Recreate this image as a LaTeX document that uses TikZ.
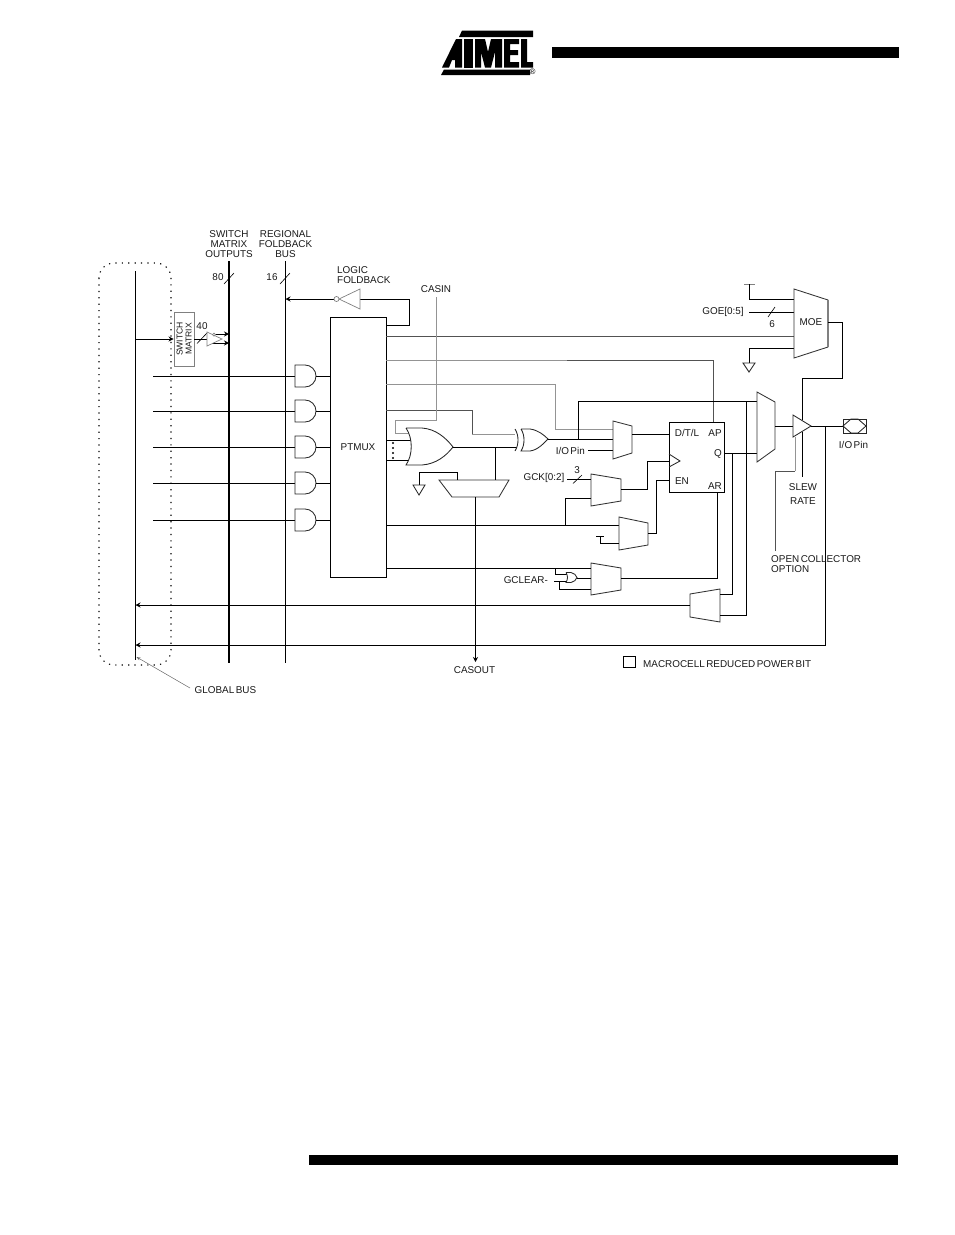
\documentclass[tikz,border=0pt]{standalone}
\usepackage{fontspec}
\setmainfont[WordSpace=0.55]{Liberation Sans}
\usetikzlibrary{arrows.meta}
\tikzset{
  wire/.style={line width=0.85pt,black},
  graywire/.style={line width=0.85pt,black!42},
  dimwire/.style={line width=0.85pt,black!68},
  gate/.style={line width=0.85pt,black!85,fill=white},
  lightgate/.style={line width=0.7pt,black!50,fill=white},
  mux/.style={line width=0.85pt,black!80,fill=white},
  lbl/.style={font=\fontsize{9.9}{10}\selectfont,inner sep=0pt,align=center,text=black!90},
  tip/.style={-{Stealth[length=5pt,width=5pt]}},
  busline/.style={line width=0.9pt,black},
  thickbus/.style={line width=2pt,black},
  box/.style={draw,line width=0.9pt,black,fill=white,inner sep=0pt},
}
\begin{document}
\begin{tikzpicture}[x=1pt,y=-1pt]
\useasboundingbox (0,0) rectangle (954,1235);
% header and footer bars
\fill[black] (552,47) rectangle (899,58);
\fill[black] (309,1155) rectangle (898,1165);
% logo
\fill[black] (462,30.5) -- (533,30.5) -- (533,37) -- (459,37) -- cycle;
\fill[black] (441,75) -- (530,75) -- (530,69.5) -- (444,69.5) -- cycle;
\fill[black] (442,67.5) -- (456,39) -- (462,39) -- (462,67.5) -- (455,67.5) -- (455,60) -- (452,60) -- (449,67.5) -- cycle;
\fill[black] (463.5,39) -- (473,39) -- (473,67.5) -- (463.5,67.5) -- cycle;
\fill[black] (475,39) -- (485,39) -- (488,52) -- (491,39) -- (502,39) -- (502,67.5) -- (495,67.5) -- (495,52) -- (491,67.5) -- (485,67.5) -- (481,52) -- (481,67.5) -- (475,67.5) -- cycle;
\fill[black] (504,39) -- (519,39) -- (519,44) -- (510,44) -- (510,50) -- (518,50) -- (518,55) -- (510,55) -- (510,62) -- (519,62) -- (519,67.5) -- (504,67.5) -- cycle;
\fill[black] (521,39) -- (527,39) -- (527,62) -- (533,62) -- (533,67.5) -- (521,67.5) -- cycle;
\node[font=\fontsize{8}{8}\selectfont,inner sep=0pt] (reg) at (532.5,72) {®};
% dotted global bus outline
\draw[black,line width=1.1pt,dash pattern=on 1.2pt off 5.2pt,rounded corners=15pt] (99,263) rectangle (171,665);
% buses
\coordinate (gbT) at (135.5,271); \coordinate (gbB) at (135.5,660);
\coordinate (smT) at (229,261);  \coordinate (smB) at (229,663);
\coordinate (rfT) at (285.5,261); \coordinate (rfB) at (285.5,663);
\draw[busline] (gbT) -- (gbB);
\draw[thickbus] (smT) -- (smB);
\draw[busline] (rfT) -- (rfB);
\draw[line width=0.6pt] (224,284) -- (234,273);
\draw[line width=0.6pt] (280,284) -- (290,273);
% labels
\node[lbl] (tsmo) at (229,244) {SWITCH\\MATRIX\\OUTPUTS};
\node[lbl] (trfb) at (285.5,244) {REGIONAL\\FOLDBACK\\BUS};
\node[lbl] (t80) at (218,277) {80};
\node[lbl] (t16) at (272,277) {16};
\node[lbl,align=left,anchor=west] (tlf) at (337,275) {LOGIC\\FOLDBACK};
\node[lbl] (tcasin) at (436,289) {CASIN};
% switch matrix
\node[draw=black!50,line width=0.9pt,fill=white,minimum width=20pt,minimum height=54pt,inner sep=0pt] (swm) at (184,339) {};
\node[lbl,rotate=90,font=\fontsize{8.6}{9}\selectfont] (tswm) at (184,339) {SWITCH\\MATRIX};
\coordinate (swi) at (135.5,339);
\draw[wire,tip] (swi) -- (swm.west);
\coordinate (bufi) at (207,339);
\draw[wire] (swm.east) -- (bufi);
\draw[line width=0.6pt] (197,343.5) -- (207,333);
\node[lbl] (t40) at (202,326) {40};
\coordinate (b1) at (214,334); \coordinate (b1e) at (229,334);
\coordinate (b2) at (212,343); \coordinate (b2e) at (229,343);
\draw[wire,tip] (b1) -- (b1e);
\draw[wire,tip] (b2) -- (b2e);
\draw[lightgate,fill=none] (207,332) -- (222,339) -- (207,346) -- cycle;
\draw[lightgate] (214,334.5) circle (1.5);
% logic foldback
\coordinate (lfa) at (333.5,299); \coordinate (lfb) at (360,299); \coordinate (lfc) at (409,299); \coordinate (lfd) at (386,325);
\draw[wire,tip] (lfa) -- (285.5,299);
\draw[wire] (lfb) -- (lfc) |- (lfd);
\draw[lightgate] (360,289) -- (339,299) -- (360,309) -- cycle;
\draw[lightgate] (336.5,299) circle (2.5);
% PTMUX
\node[box,minimum width=56pt,minimum height=260pt,lbl,draw=black] (ptm) at (358,447) {PTMUX};
% AND gates
\foreach \n/\yy in {1/376,2/411,3/447,4/483,5/520}{
  \coordinate (ai\n) at (153,\yy);
  \coordinate (ag\n) at (295,\yy);
  \coordinate (ao\n) at (316,\yy);
  \coordinate (ap\n) at (330,\yy);
  \draw[wire] (ai\n) -- (ag\n);
  \draw[gate] (ag\n) ++(0,-11) -- ++(10,0) arc[start angle=-90,end angle=90,radius=11] -- ++(-10,0) -- cycle;
  \draw[wire] (ao\n) -- (ap\n);
}
% PTMUX outputs
\coordinate (moeB) at (794,336);
\draw[dimwire] (386,336) -- (moeB);
\coordinate (ffAP) at (713,422);
\draw[graywire] (386,360) -- (567,360);
\draw[dimwire] (567,360) -| (ffAP);
\coordinate (muxA) at (613,429);
\draw[graywire] (386,384) -| (555,429) -- (muxA);
\coordinate (xorA) at (515,434);
\draw[dimwire] (386,410) -- (472,410) -- (472,434);
\draw[graywire] (472,434) -- (xorA);
\coordinate (casinT) at (436,297);
\draw[graywire] (casinT) |- (395,420) -- (395,433) -- (410,433);
\draw[wire] (386,440) -- (412,440);
\draw[wire] (386,460) -- (412,460);
\foreach \yy in {443,448,453,458}{\fill[black] (393,\yy) circle (1.1);}
% OR gate
\coordinate (orO) at (453,447);
\draw[gate] (406,428) -- (422,428) .. controls (436,429) and (446,438) .. (orO) .. controls (446,456) and (436,464) .. (422,465) -- (406,465) .. controls (413,455) and (413,438) .. (406,428);
\coordinate (xorI) at (517,447);
\draw[wire] (orO) -- (xorI);
% XOR gate
\coordinate (xorO) at (548,439);
\draw[gate] (521,429) -- (530,429) .. controls (538,430) and (544,435) .. (xorO) .. controls (544,443) and (538,450) .. (530,451) -- (521,451) .. controls (525,445) and (525,435) .. (521,429);
\draw[gate,fill=none] (515,429) .. controls (519,435) and (519,445) .. (515,451);
\coordinate (muxB) at (613,439);
\draw[wire] (xorO) -- (muxB);
\coordinate (umuxA) at (757,401);
\draw[wire] (578,439) |- (umuxA);
\coordinate (muxC) at (613,450);
\node[lbl,anchor=east] (tio1) at (585,451) {I/O Pin};
\draw[wire] (588,450) -- (muxC);
% casout mux
\draw[mux] (439,480) -- (509,480) -- (499,497) -- (452,497) -- cycle;
\coordinate (csI) at (495,480); \coordinate (csO) at (475.5,497); \coordinate (csE) at (475.5,662);
\draw[wire] (495,447) -- (csI);
\coordinate (g1) at (419,485);
\draw[wire] (457,480) |- (419,472) -- (g1);
\draw[gate] (413,485) -- (425,485) -- (419,495) -- cycle;
\draw[wire,tip] (csO) -- (csE);
\node[lbl] (tcasout) at (474.5,670) {CASOUT};
% D mux
\draw[mux] (613,421) -- (632,426) -- (632,453) -- (613,459) -- cycle;
\coordinate (muxO) at (632,434);
% flip flop
\node[box,minimum width=55pt,minimum height=70pt] (ff) at (696.5,457) {};
\draw[wire] (muxO) -- (ff.west |- muxO);
\draw[gate,fill=none] (669,454) -- (680,461) -- (669,467);
\node[lbl] (tdtl) at (687,433) {D/T/L};
\node[lbl] (tap) at (715,433) {AP};
\node[lbl] (tq) at (718,454) {Q};
\node[lbl] (ten) at (682,481) {EN};
\node[lbl] (tar) at (715,486) {AR};
% GCK mux
\draw[mux] (591,474) -- (621,479) -- (621,501) -- (591,506) -- cycle;
\node[lbl,anchor=east] (tgck) at (564.5,478) {GCK[0:2]};
\coordinate (gckI) at (591,479);
\draw[wire] (567,479) -- (gckI);
\draw[line width=0.6pt] (573,483.5) -- (582,475);
\node[lbl] (t3) at (577,470) {3};
\coordinate (ckO) at (621,489); \coordinate (ckF) at (669,461);
\draw[wire] (ckO) -| (647,461) -- (ckF);
\coordinate (enI) at (619,525);
\draw[wire] (386,525) -- (enI);
\draw[wire] (591,498) -| (565,525);
% EN mux
\draw[mux] (619,517) -- (648,523) -- (648,545) -- (619,550) -- cycle;
\coordinate (enO) at (648,533); \coordinate (enF) at (669,480);
\draw[wire] (enO) -| (656,480) -- (enF);
\draw[wire] (596,536) -- (604,536);
\draw[wire] (600,536) |- (619,543);
% GCLEAR mux
\draw[mux] (591,563) -- (621,568) -- (621,590) -- (591,595) -- cycle;
\coordinate (gcI) at (591,568);
\draw[wire] (386,568) -- (gcI);
\draw[wire] (555,568) |- (568,574);
\draw[wire] (554,581) -- (568,581);
\draw[wire] (559,581) |- (591,589);
\draw[gate] (566,572.5) -- (571,572.5) .. controls (574,573) and (576,575) .. (577,577.5) .. controls (576,580) and (574,582) .. (571,582.5) -- (566,582.5) .. controls (568,579) and (568,576) .. (566,572.5);
\draw[wire] (577,578) -- (591,578);
\node[lbl,anchor=east] (tgcl) at (548,580) {GCLEAR-};
\coordinate (arO) at (717,492); \coordinate (arM) at (621,578);
\draw[wire] (arO) |- (arM);
% feedback mux
\draw[mux] (690,594) -- (720,589) -- (720,622) -- (690,617) -- cycle;
\coordinate (fbO) at (690,605); \coordinate (fbE) at (135.5,605);
\draw[wire,tip] (fbO) -- (fbE);
\coordinate (qO) at (724,453);
\draw[wire] (qO) -- (757,453);
\draw[wire] (732.5,453) |- (720,594);
\draw[wire] (746,401) |- (720,615);
% output mux
\draw[mux] (757,392) -- (775,402) -- (775,449) -- (757,462) -- cycle;
\coordinate (umO) at (775,426);
\draw[wire] (umO) -- (793,426);
% MOE
\node[lbl] (tgoe) at (723,312) {GOE[0:5]};
\coordinate (moeC) at (794,312);
\draw[wire] (749,312) -- (moeC);
\draw[line width=0.6pt] (768,317) -- (775,307);
\node[lbl] (t6) at (772,324) {6};
\coordinate (moeT) at (794,299);
\draw[line width=0.9pt,black!50] (744,284) -- (755,284);
\draw[wire] (749,284) |- (moeT);
\coordinate (moeG) at (794,348);
\draw[wire] (moeG) -| (749,363);
\draw[gate] (743,363) -- (755,363) -- (749,372) -- cycle;
\draw[mux] (794,289) -- (828,300) -- (828,347) -- (794,358) -- cycle;
\draw[line width=1.1pt,black!50] (828,300) -- (828,347);
\node[lbl] (tmoe) at (811,322) {MOE};
\coordinate (moeO) at (828,322);
\coordinate (slewB) at (802,477);
\draw[wire] (moeO) -| (842,378) -| (802,420);
\draw[wire] (802,432) -- (slewB);
\draw[dimwire] (775,551) |- (795,471);
\draw[graywire] (795,471) -- (795,437);
% output buffer
\draw[gate,fill=none] (793,415) -- (811,426) -- (793,437) -- cycle;
\coordinate (bufO) at (811,426); \coordinate (pin) at (843,426); \coordinate (gbE) at (135.5,645);
\draw[wire] (bufO) -- (pin);
\draw[wire,tip] (825.5,426) |- (gbE);
\draw[gate,fill=none] (843,419) rectangle (866,433);
\draw[gate,fill=none] (843,426) -- (851,419) -- (858,419) -- (866,426) -- (858,433) -- (851,433) -- cycle;
\node[lbl] (tio2) at (853.5,445) {I/O Pin};
\node[lbl] (tslew) at (803,487) {SLEW};
\node[lbl] (trate) at (803,501) {RATE};
\node[lbl,align=left,anchor=west] (toc) at (771,564) {OPEN COLLECTOR\\OPTION};
\node[draw=black,line width=0.7pt,minimum width=12pt,minimum height=11pt,inner sep=0pt] (rpb) at (629,661.5) {};
\node[lbl,anchor=west] (trpb) at (643,664) {MACROCELL REDUCED POWER BIT};
\node[lbl,anchor=west] (tgb) at (194.5,690) {GLOBAL BUS};
\coordinate (gbL) at (136.5,657);
\draw[line width=0.5pt,black!60,-{Stealth[length=4pt,width=3pt,open]}] (190,688) -- (gbL);
\end{tikzpicture}
\end{document}
